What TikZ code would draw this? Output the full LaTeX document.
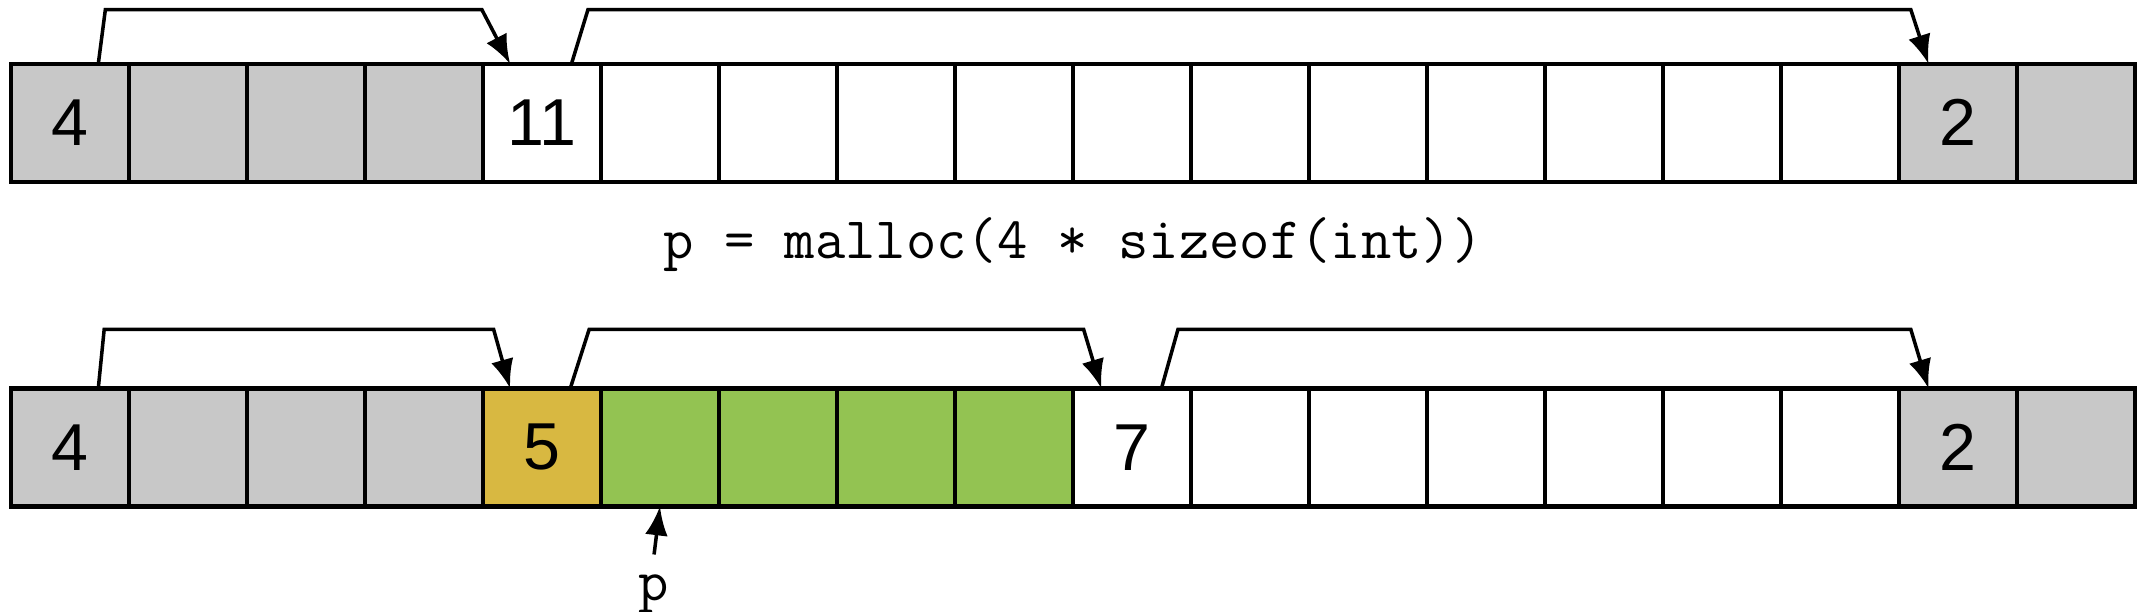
\documentclass[tikz,border=0pt]{standalone}
\usepackage{fontspec}
\setmainfont{Liberation Sans}
\usetikzlibrary{arrows.meta,positioning}
\definecolor{usedgray}{HTML}{C8C8C8}
\definecolor{hdrgold}{HTML}{D8B841}
\definecolor{blkgreen}{HTML}{93C352}
\tikzset{
  cell/.style={draw, line width=0.75pt, minimum width=1cm, minimum height=1cm,
    inner sep=0pt, outer sep=0pt, font=\fontsize{16}{19}\selectfont},
  link/.style={-{Latex[length=7pt,width=5.5pt]}, line width=0.85pt},
  code/.style={font=\fontsize{14.2}{17}\selectfont\ttfamily, inner sep=1pt},
}

\begin{document}
\begin{tikzpicture}
  \useasboundingbox (0,0) rectangle (18.178,5.186);
  % draw heap before malloc
  \foreach \c/\t [count=\i from 0] in {usedgray/4,usedgray/,usedgray/,usedgray/,
      white/11,white/,white/,white/,white/,white/,white/,white/,white/,white/,
      white/,white/,usedgray/2,usedgray/}
    \node[cell, fill=\c] (a\i) at (0.593+\i,4.145) {\t};
  \draw[line width=1.1pt] (a0.north west) rectangle (a17.south east);
  % draw heap after malloc
  \foreach \c/\t [count=\i from 0] in {usedgray/4,usedgray/,usedgray/,usedgray/,
      hdrgold/5,blkgreen/,blkgreen/,blkgreen/,blkgreen/,white/7,white/,white/,
      white/,white/,white/,white/,usedgray/2,usedgray/}
    \node[cell, fill=\c] (b\i) at (0.593+\i,1.395) {\t};
  \draw[line width=1.1pt] (b0.north west) rectangle (b17.south east);
  % draw links before malloc
  \draw[link] ([xshift=0.24cm]a0.north) -- ([xshift=0.30cm,yshift=0.46cm]a0.north)
    -- ([xshift=-0.51cm,yshift=0.46cm]a4.north) -- ([xshift=-0.27cm]a4.north);
  \draw[link] ([xshift=0.25cm]a4.north) -- ([xshift=0.39cm,yshift=0.46cm]a4.north)
    -- ([xshift=-0.40cm,yshift=0.46cm]a16.north) -- ([xshift=-0.25cm]a16.north);
  % draw call
  \node[code] (call) at (9.093,3.11) {p = malloc(4 * sizeof(int))};
  % draw links after malloc
  \draw[link] ([xshift=0.24cm]b0.north) -- ([xshift=0.29cm,yshift=0.5cm]b0.north)
    -- ([xshift=-0.41cm,yshift=0.5cm]b4.north) -- ([xshift=-0.27cm]b4.north);
  \draw[link] ([xshift=0.24cm]b4.north) -- ([xshift=0.40cm,yshift=0.5cm]b4.north)
    -- ([xshift=-0.41cm,yshift=0.5cm]b9.north) -- ([xshift=-0.26cm]b9.north);
  \draw[link] ([xshift=0.25cm]b9.north) -- ([xshift=0.39cm,yshift=0.5cm]b9.north)
    -- ([xshift=-0.40cm,yshift=0.5cm]b16.north) -- ([xshift=-0.25cm]b16.north);
  % draw pointer
  \node[code] (p) at (5.543,0.15) {p};
  \draw[link] ([yshift=0.13cm]p.north) -- (b5.south);
\end{tikzpicture}
\end{document}
